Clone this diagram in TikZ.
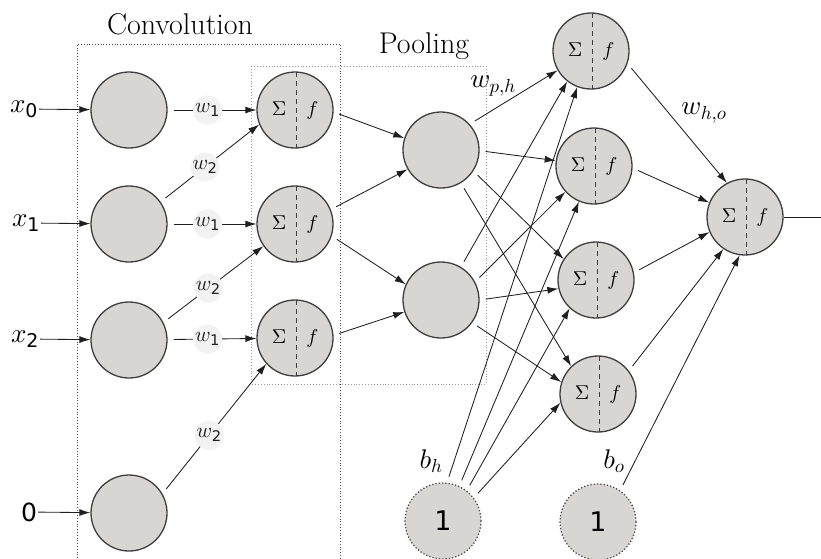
\documentclass[tikz,border=0pt]{standalone}
\usepackage{amsmath}
\usepackage{fontspec}
\DeclareFontShape{OML}{cmm}{m}{it}{<-> cmmi10}{}
\DeclareFontShape{OT1}{cmr}{m}{n}{<-> cmr10}{}
\DeclareFontShape{OMS}{cmsy}{m}{n}{<-> cmsy10}{}
\newfontfamily\dejavu{DejaVu Sans}
\usetikzlibrary{arrows.meta}
\definecolor{nfill}{RGB}{216,214,210}
\definecolor{nborder}{RGB}{62,62,62}
\definecolor{wbg}{RGB}{242,242,242}
\newcommand{\ds}[1]{\text{\dejavu #1}}
\tikzset{
  neuron/.style={circle, draw=nborder, fill=nfill, line width=1.3pt, minimum size=76pt, inner sep=0pt},
  sumneuron/.style={neuron, font=\fontsize{20}{20}\selectfont,
    path picture={\draw[nborder, line width=1pt, dash pattern=on 5pt off 4pt]
      ([xshift=1pt]path picture bounding box.north) -- ([xshift=1pt]path picture bounding box.south);}},
  biasneuron/.style={neuron, draw=black!70, dotted, line width=1.3pt, font=\fontsize{27}{27}\dejavu},
  conn/.style={-{Latex[length=11pt,width=7pt]}, line width=0.85pt, black!88, shorten <=6pt},
  plainconn/.style={line width=0.85pt, black!88},
  wlab/.style={circle, fill=wbg, inner sep=0pt, minimum size=29pt, font=\fontsize{21}{21}\selectfont},
  biglab/.style={font=\fontsize{27}{30}\selectfont, inner sep=1pt},
  titlelab/.style={font=\fontsize{30}{32}\selectfont, inner sep=1pt},
  convbox/.style={draw=black!70, dotted, line width=0.8pt},
  poolbox/.style={draw=black!40, dotted, line width=0.9pt}
}
\newcommand{\sumf}{$\Sigma\hspace{20pt}f$}
\begin{document}
\begin{tikzpicture}[x=1pt,y=-1pt]
\useasboundingbox (0,0) rectangle (821,558);
% boxes
\draw[convbox] (77,600) -- (77,44) -- (340,44) -- (340,600);
\draw[poolbox] (251,66) rectangle (486,384);
\node[titlelab] (tconv) at (180,24) {Convolution};
\node[titlelab] (tpool) at (424,46) {Pooling};
% input layer
\node[neuron] (in0) at (129,110) {};
\node[neuron] (in1) at (129,224) {};
\node[neuron] (in2) at (129,340) {};
\node[neuron] (in3) at (129,513) {};
\node[biglab] (lx0) at (24,109) {$x_{\ds{0}}$};
\node[biglab] (lx1) at (26,223) {$x_{\ds{1}}$};
\node[biglab] (lx2) at (25,339) {$x_{\ds{2}}$};
\node[biglab, font=\fontsize{25}{25}\dejavu] (lx3) at (29,512) {0};
\draw[conn, shorten <=0pt] (lx0) -- (in0);
\draw[conn, shorten <=0pt] (lx1) -- (in1);
\draw[conn, shorten <=0pt] (lx2) -- (in2);
\draw[conn, shorten <=0pt] (lx3) -- (in3);
% convolution layer
\node[sumneuron] (c1) at (295,110) {\sumf};
\node[sumneuron] (c2) at (295,224) {\sumf};
\node[sumneuron] (c3) at (295,338) {\sumf};
\draw[conn] (in0) -- node[wlab, pos=0.45] (w01) {$w_{\ds{1}}$} (c1);
\draw[conn] (in1.35) -- node[wlab, pos=0.45] (w12) {$w_{\ds{2}}$} (c1.202);
\draw[conn] (in1) -- node[wlab, pos=0.45] (w11) {$w_{\ds{1}}$} (c2);
\draw[conn] (in2.27) -- node[wlab, pos=0.45] (w22) {$w_{\ds{2}}$} (c2.215);
\draw[conn] (in2) -- node[wlab, pos=0.45] (w21) {$w_{\ds{1}}$} (c3);
\draw[conn] (in3.30) -- node[wlab, pos=0.45] (w32) {$w_{\ds{2}}$} (c3.222);
% pooling layer
\node[neuron] (p1) at (441,150) {};
\node[neuron] (p2) at (441,300) {};
\draw[conn] (c1.-3) -- (p1.162);
\draw[conn] (c2.22) -- (p1.210);
\draw[conn] (c2.-18) -- (p2.156);
\draw[conn] (c3.4) -- (p2.198);
% hidden layer
\node[sumneuron] (h1) at (591,51) {\sumf};
\node[sumneuron] (h2) at (594,166) {\sumf};
\node[sumneuron] (h3) at (596,280) {\sumf};
\node[sumneuron] (h4) at (598,394) {\sumf};
\draw[conn] (p1.42) -- (h1.210);
\draw[conn] (p1.-1) -- (h2.172);
\draw[conn] (p1.-33) -- (h3.147);
\draw[conn] (p1.-59) -- (h4.134);
\draw[conn] (p2.59) -- (h1.232);
\draw[conn] (p2.28) -- (h2.222);
\draw[conn] (p2.0) -- (h3.193);
\draw[conn] (p2.-36) -- (h4.162);
% biases
\node[biasneuron] (bh) at (443,521) {1};
\node[biasneuron] (bo) at (598,522) {1};
\draw[conn] (bh.84) -- (h1.249);
\draw[conn] (bh.65) -- (h2.247);
\draw[conn] (bh.52) -- (h3.227);
\draw[conn] (bh.37) -- (h4.193);
% output
\node[sumneuron] (out) at (745,217) {\sumf};
\draw[conn] (h1.-19) -- (out.118);
\draw[conn] (h2.-3) -- (out.158);
\draw[conn] (h3.11) -- (out.203);
\draw[conn] (h4.37) -- (out.236);
\draw[conn] (bo.55) -- (out.262);
\coordinate (oend) at (821,217);
\draw[plainconn] (out) -- (oend);
% labels
\node[biglab] (lwph) at (493,86) {$w_{p,h}$};
\node[biglab] (lwho) at (704,113) {$w_{h,o}$};
\node[biglab] (lbh) at (431,461) {$b_h$};
\node[biglab] (lbo) at (614,461) {$b_o$};
\end{tikzpicture}
\end{document}
